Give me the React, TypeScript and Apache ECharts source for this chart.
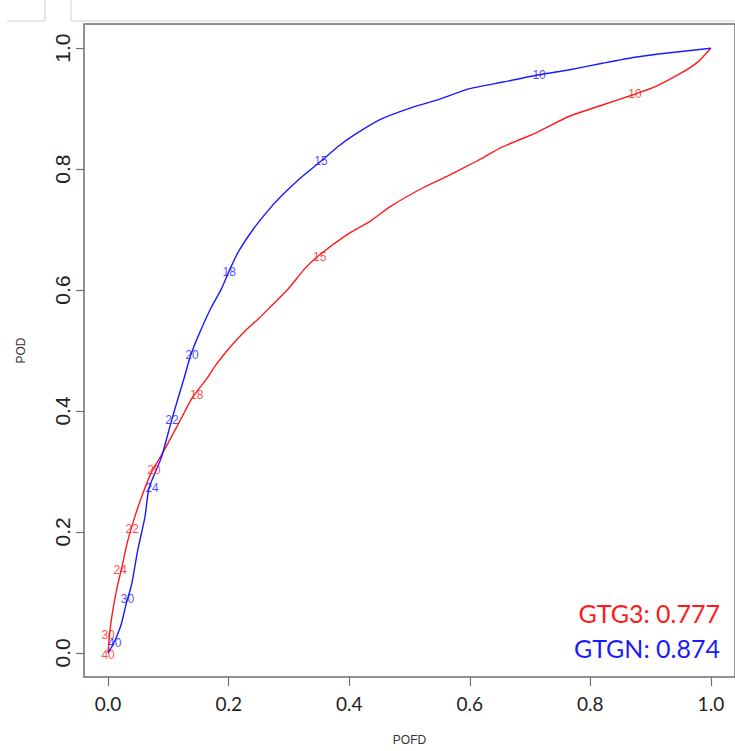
import React, { useEffect, useRef } from "react";
import * as echarts from "echarts";

// ROC curve points (POFD, POD)
const gtg3Pofd = [0, 0.002, 0.006, 0.014, 0.022, 0.032, 0.044, 0.057, 0.073, 0.088, 0.113, 0.139, 0.164, 0.178, 0.2, 0.228, 0.25, 0.271, 0.299, 0.326, 0.348, 0.397, 0.435, 0.468, 0.524, 0.562, 0.611, 0.655, 0.71, 0.764, 0.82, 0.871, 0.907, 0.951, 0.978, 1];
const gtg3Pod = [0, 0.026, 0.059, 0.104, 0.138, 0.183, 0.224, 0.262, 0.301, 0.326, 0.372, 0.421, 0.454, 0.475, 0.503, 0.533, 0.553, 0.574, 0.602, 0.635, 0.656, 0.692, 0.714, 0.738, 0.77, 0.788, 0.813, 0.837, 0.86, 0.887, 0.906, 0.923, 0.936, 0.959, 0.977, 1];

const gtgnPofd = [0, 0.006, 0.014, 0.022, 0.03, 0.039, 0.049, 0.061, 0.068, 0.088, 0.106, 0.126, 0.137, 0.15, 0.17, 0.188, 0.2, 0.216, 0.241, 0.265, 0.287, 0.32, 0.353, 0.381, 0.409, 0.451, 0.501, 0.545, 0.6, 0.655, 0.715, 0.764, 0.82, 0.874, 0.928, 1];
const gtgnPod = [0, 0.01, 0.026, 0.048, 0.081, 0.113, 0.169, 0.224, 0.273, 0.322, 0.387, 0.454, 0.492, 0.525, 0.569, 0.602, 0.63, 0.663, 0.701, 0.731, 0.755, 0.786, 0.813, 0.837, 0.857, 0.882, 0.901, 0.914, 0.933, 0.944, 0.956, 0.964, 0.975, 0.985, 0.992, 1];

// Threshold labels placed on the curves
const gtg3Thresholds = ["40", "30", "24", "22", "20", "18", "15", "10"];
const gtg3ThrPofd = [0.0, 0.0, 0.02, 0.04, 0.076, 0.147, 0.351, 0.874];
const gtg3ThrPod = [-0.003, 0.029, 0.137, 0.204, 0.303, 0.426, 0.655, 0.924];

const gtgnThresholds = ["40", "30", "24", "22", "20", "18", "15", "10"];
const gtgnThrPofd = [0.011, 0.032, 0.073, 0.106, 0.139, 0.201, 0.353, 0.715];
const gtgnThrPod = [0.016, 0.089, 0.273, 0.385, 0.492, 0.63, 0.814, 0.956];

const tickValues = [0, 0.2, 0.4, 0.6, 0.8, 1.0];
const aucNames = ["GTG3", "GTGN"];
const aucValues = ["0.777", "0.874"];

const RED = "#ff1a1a";
const BLUE = "#1a1aff";

export default function App() {
  const ref = useRef<HTMLDivElement>(null);
  useEffect(() => {
    if (!ref.current) return;
    const chart = echarts.init(ref.current, null, { renderer: "svg" });
    const zip = (a: number[], b: number[]) => a.map((v, i) => [v, b[i]]);
    const lbl = (a: number[], b: number[], t: string[]) =>
      a.map((v, i) => ({ value: [v, b[i]], name: t[i] }));
    chart.setOption({
      animation: false,
      backgroundColor: "#ffffff",
      grid: {
        left: 84,
        top: 24,
        width: 657,
        height: 656,
        show: true,
        borderColor: "#6e6e6e",
        borderWidth: 1.5,
        backgroundColor: "transparent",
      },
      xAxis: {
        type: "value",
        min: -0.04,
        max: 1.04,
        name: "POFD",
        nameLocation: "middle",
        nameGap: 57,
        nameTextStyle: { fontFamily: "Liberation Sans", fontSize: 12, color: "#333" },
        splitLine: { show: false },
        axisLine: { show: false, onZero: false },
        axisTick: {
          show: true,
          customValues: tickValues,
          length: 9,
          lineStyle: { color: "#6e6e6e", width: 1.2 },
        },
        axisLabel: {
          customValues: tickValues,
          formatter: (v: number) => v.toFixed(1),
          margin: 17,
          fontFamily: "Lato",
          fontSize: 19,
          color: "#222",
        },
      },
      yAxis: {
        type: "value",
        min: -0.04,
        max: 1.04,
        name: "POD",
        nameLocation: "middle",
        nameGap: 57,
        nameRotate: 90,
        nameTextStyle: { fontFamily: "Liberation Sans", fontSize: 12, color: "#333" },
        splitLine: { show: false },
        axisLine: { show: false, onZero: false },
        axisTick: {
          show: true,
          customValues: tickValues,
          length: 8,
          lineStyle: { color: "#6e6e6e", width: 1.2 },
        },
        axisLabel: {
          customValues: tickValues,
          formatter: (v: number) => v.toFixed(1),
          rotate: 90,
          margin: 11,
          fontFamily: "Liberation Sans",
          fontSize: 21,
          color: "#222",
        },
      },
      series: [
        {
          type: "line",
          data: zip(gtg3Pofd, gtg3Pod),
          showSymbol: false,
          smooth: 0.2,
          lineStyle: { color: RED, width: 1.4 },
          z: 2,
        },
        {
          type: "line",
          data: zip(gtgnPofd, gtgnPod),
          showSymbol: false,
          smooth: 0.2,
          lineStyle: { color: BLUE, width: 1.4 },
          z: 2,
        },
        {
          type: "scatter",
          data: lbl(gtg3ThrPofd, gtg3ThrPod, gtg3Thresholds),
          symbolSize: 0,
          itemStyle: { color: RED },
          label: {
            show: true,
            position: "inside",
            formatter: (p: any) => p.name,
            color: RED,
            fontFamily: "Liberation Sans",
            fontSize: 12,
          },
          z: 3,
        },
        {
          type: "scatter",
          data: lbl(gtgnThrPofd, gtgnThrPod, gtgnThresholds),
          symbolSize: 0,
          itemStyle: { color: BLUE },
          label: {
            show: true,
            position: "inside",
            formatter: (p: any) => p.name,
            color: BLUE,
            fontFamily: "Liberation Sans",
            fontSize: 12,
          },
          z: 3,
        },
      ],
      graphic: [
        {
          type: "text",
          right: 15,
          top: 600,
          style: {
            text: `${aucNames[0]}: ${aucValues[0]}`,
            fill: RED,
            font: '25px "Lato"',
            textAlign: "right",
          },
        },
        {
          type: "text",
          right: 15,
          top: 635,
          style: {
            text: `${aucNames[1]}: ${aucValues[1]}`,
            fill: BLUE,
            font: '25px "Lato"',
            textAlign: "right",
          },
        },
        { type: "line", shape: { x1: 7, y1: 21, x2: 45, y2: 21 }, style: { stroke: "#d0d0d0", lineWidth: 1 } },
        { type: "line", shape: { x1: 71, y1: 21, x2: 735, y2: 21 }, style: { stroke: "#d0d0d0", lineWidth: 1 } },
        { type: "line", shape: { x1: 45, y1: 0, x2: 45, y2: 21 }, style: { stroke: "#d0d0d0", lineWidth: 1 } },
        { type: "line", shape: { x1: 71, y1: 0, x2: 71, y2: 21 }, style: { stroke: "#d0d0d0", lineWidth: 1 } },
      ],
    });
    return () => chart.dispose();
  }, []);
  return (
    <div
      ref={ref}
      style={{ position: "fixed", left: 0, top: 0, width: 735, height: 751 }}
    />
  );
}
